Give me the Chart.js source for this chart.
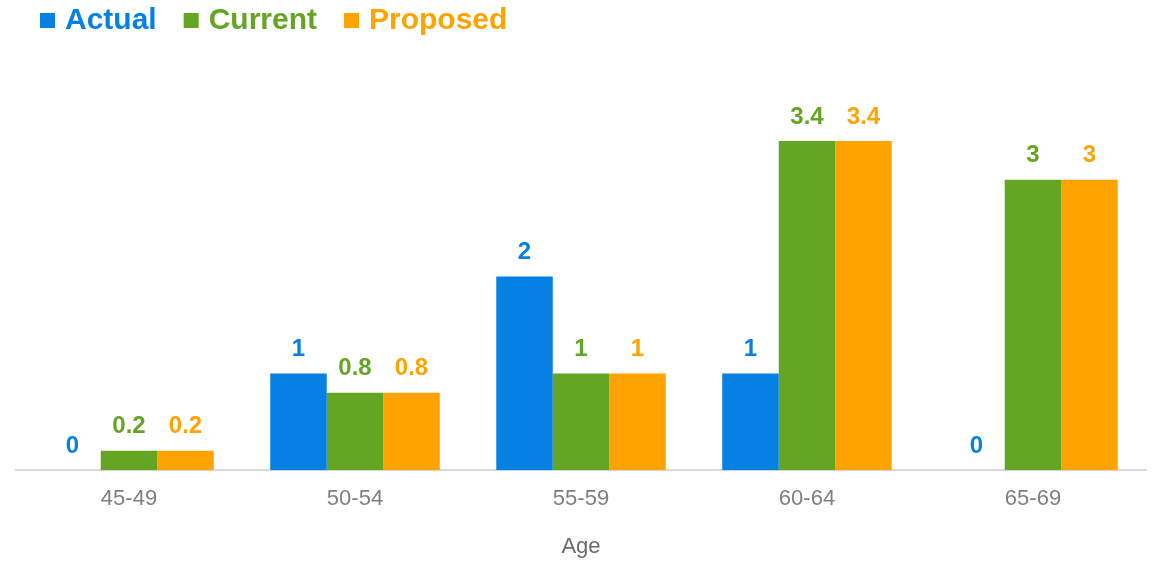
<!DOCTYPE html>
<html>
<head>
<meta charset="utf-8">
<script src="https://cdn.jsdelivr.net/npm/chart.js@4/dist/chart.umd.min.js"></script>
<style>
  html, body { margin: 0; padding: 0; background: #fff; }
  .container { width: 1153px; height: 561px; position: relative; }
</style>
</head>
<body>
<div class="container">
  <canvas id="myChart" width="1153" height="561"></canvas>
</div>
<script>
const age_groups = ['45-49', '50-54', '55-59', '60-64', '65-69']
const actual_values = [0, 1, 2, 1, 0]
const current_values = [0.2, 0.8, 1, 3.4, 3]
const proposed_values = [0.2, 0.8, 1, 3.4, 3]

const blue = '#0780E3'
const green = '#64A524'
const orange = '#FFA300'
const font_family = '"Liberation Sans", Arial, sans-serif'

// value above every bar, in the bar's own colour
const bar_labels = {
    id: 'bar_labels',
    afterDatasetsDraw(chart) {
        const ctx = chart.ctx
        ctx.save()
        ctx.font = 'bold 24px ' + font_family
        ctx.textAlign = 'center'
        ctx.textBaseline = 'middle'
        chart.data.datasets.forEach((ds, i) => {
            chart.getDatasetMeta(i).data.forEach((bar, j) => {
                ctx.fillStyle = ds.backgroundColor
                ctx.fillText(String(ds.data[j]), bar.x, bar.y - 24)
            })
        })
        ctx.restore()
    }
}

// legend row at the top left: square marker + bold coloured name
const top_legend = {
    id: 'top_legend',
    afterDraw(chart) {
        const ctx = chart.ctx
        ctx.save()
        ctx.font = 'bold 30px ' + font_family
        ctx.textBaseline = 'middle'
        let x = 40
        const y = 20
        chart.data.datasets.forEach((ds) => {
            ctx.fillStyle = ds.backgroundColor
            ctx.fillRect(x, y - 7, 15, 15)
            x += 25
            ctx.fillText(ds.label, x, y + 1)
            x += ctx.measureText(ds.label).width + 27
        })
        ctx.restore()
    }
}

const ctx = document.getElementById('myChart').getContext('2d')
const myChart = new Chart(ctx, {
    type: 'bar',
    data: {
        labels: age_groups,
        datasets: [
            { label: 'Actual', data: actual_values, backgroundColor: blue },
            { label: 'Current', data: current_values, backgroundColor: green },
            { label: 'Proposed', data: proposed_values, backgroundColor: orange }
        ]
    },
    options: {
        responsive: false,
        animation: false,
        layout: { padding: { top: 83, left: 16, right: 7, bottom: 0 } },
        datasets: { bar: { categoryPercentage: 0.75, barPercentage: 1.0 } },
        plugins: {
            legend: { display: false },
            tooltip: { enabled: false }
        },
        scales: {
            x: {
                grid: { display: false },
                border: { display: true, color: '#d9d9d9', width: 2 },
                ticks: {
                    color: '#7f7f7f',
                    padding: 8,
                    font: { family: font_family, size: 22 }
                },
                title: {
                    display: true,
                    text: 'Age',
                    color: '#6b6b6b',
                    padding: { top: 13, bottom: 1 },
                    font: { family: font_family, size: 22 }
                }
            },
            y: {
                display: false,
                min: 0,
                max: 4
            }
        }
    },
    plugins: [bar_labels, top_legend]
})
</script>
</body>
</html>
